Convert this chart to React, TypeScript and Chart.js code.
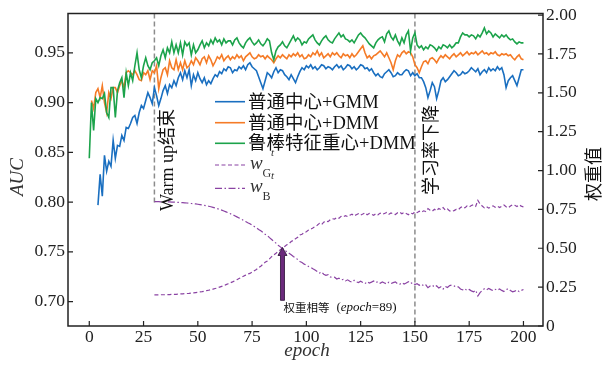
import React, { useEffect, useRef } from "react";
import { Chart, registerables } from "chart.js";
Chart.register(...registerables);

// ---------------- data ----------------
const xTicks = [0, 25, 50, 75, 100, 125, 150, 175, 200];
const aucTicks = [0.7, 0.75, 0.8, 0.85, 0.9, 0.95];
const weightTicks = [0, 0.25, 0.5, 0.75, 1.0, 1.25, 1.5, 1.75, 2.0];

const seriesNames = ["普通中心+GMM", "普通中心+DMM", "鲁棒特征重心+DMM"];

const greenStart = 0;
const aucGreen = [
  0.844, 0.900, 0.872, 0.904, 0.900, 0.905, 0.904, 0.909, 0.890, 0.885,
  0.915, 0.915, 0.885, 0.912, 0.920, 0.925, 0.905, 0.930, 0.917, 0.930,
  0.922, 0.937, 0.950, 0.933, 0.925, 0.937, 0.945, 0.937, 0.933, 0.940,
  0.942, 0.945, 0.937, 0.947, 0.953, 0.945, 0.955, 0.950, 0.961, 0.950,
  0.958, 0.950, 0.960, 0.948, 0.961, 0.957, 0.960, 0.948, 0.958, 0.950,
  0.953, 0.958, 0.962, 0.955, 0.960, 0.957, 0.963, 0.959, 0.965, 0.961,
  0.963, 0.958, 0.964, 0.960, 0.962, 0.962, 0.958, 0.963, 0.965, 0.960,
  0.957, 0.955, 0.960, 0.963, 0.965, 0.961, 0.958, 0.960, 0.963, 0.959,
  0.957, 0.960, 0.964, 0.962, 0.950, 0.943, 0.952, 0.956, 0.958, 0.961,
  0.957, 0.955, 0.959, 0.963, 0.967, 0.962, 0.965, 0.963, 0.958, 0.961,
  0.960, 0.964, 0.966, 0.968, 0.963, 0.960, 0.958, 0.962, 0.965, 0.967,
  0.963, 0.961, 0.960, 0.964, 0.967, 0.970, 0.966, 0.968, 0.964, 0.963,
  0.961, 0.963, 0.960, 0.964, 0.968, 0.970, 0.967, 0.965, 0.962, 0.959,
  0.957, 0.955, 0.960, 0.963, 0.965, 0.966, 0.961, 0.969, 0.972, 0.966,
  0.963, 0.968, 0.962, 0.958, 0.965, 0.960, 0.968, 0.972, 0.952, 0.965,
  0.970, 0.958, 0.955, 0.957, 0.953, 0.956, 0.954, 0.958, 0.957, 0.955,
  0.952, 0.956, 0.954, 0.958, 0.957, 0.955, 0.958, 0.955, 0.957, 0.960,
  0.960, 0.966, 0.970, 0.968, 0.968, 0.966, 0.968, 0.967, 0.964, 0.968,
  0.966, 0.970, 0.975, 0.969, 0.972, 0.970, 0.966, 0.969, 0.967, 0.965,
  0.968, 0.966, 0.968, 0.965, 0.963, 0.964, 0.961, 0.959, 0.961, 0.960,
  0.960,
];

const orangeStart = 1;
const aucOrange = [
  0.902, 0.894, 0.910, 0.914, 0.905, 0.917, 0.900, 0.890, 0.910,
  0.904, 0.915, 0.915, 0.910, 0.917, 0.922, 0.915, 0.930, 0.932, 0.930,
  0.928, 0.932, 0.928, 0.923, 0.922, 0.930, 0.928, 0.932, 0.923, 0.932,
  0.930, 0.937, 0.914, 0.925, 0.933, 0.935, 0.928, 0.942, 0.935, 0.933,
  0.943, 0.933, 0.940, 0.933, 0.942, 0.935, 0.937, 0.942, 0.938, 0.945,
  0.942, 0.938, 0.944, 0.946, 0.940, 0.947, 0.943, 0.937, 0.941, 0.946,
  0.944, 0.948, 0.942, 0.945, 0.947, 0.943, 0.946, 0.944, 0.948, 0.945,
  0.947, 0.942, 0.946, 0.948, 0.950, 0.946, 0.944, 0.945, 0.948, 0.946,
  0.947, 0.944, 0.947, 0.945, 0.943, 0.940, 0.944, 0.947, 0.945, 0.948,
  0.946, 0.944, 0.948, 0.946, 0.949, 0.947, 0.950, 0.946, 0.948, 0.944,
  0.945, 0.948, 0.946, 0.950, 0.948, 0.952, 0.947, 0.950, 0.945, 0.947,
  0.949, 0.946, 0.950, 0.948, 0.950, 0.947, 0.945, 0.949, 0.947, 0.948,
  0.945, 0.949, 0.946, 0.948, 0.951, 0.954, 0.957, 0.950, 0.945, 0.947,
  0.944, 0.947, 0.948, 0.950, 0.952, 0.949, 0.946, 0.950, 0.945, 0.940,
  0.933, 0.942, 0.948, 0.946, 0.950, 0.952, 0.949, 0.951, 0.950, 0.946,
  0.938, 0.935, 0.930, 0.936, 0.941, 0.942, 0.939, 0.944, 0.945, 0.943,
  0.940, 0.944, 0.947, 0.945, 0.948, 0.946, 0.944, 0.947, 0.949, 0.946,
  0.948, 0.950, 0.947, 0.949, 0.951, 0.948, 0.950, 0.949, 0.951, 0.948,
  0.950, 0.952, 0.949, 0.950, 0.948, 0.950, 0.949, 0.951, 0.948, 0.947,
  0.949, 0.948, 0.949, 0.947, 0.948, 0.945, 0.943, 0.946, 0.948, 0.944,
  0.943,
];

const blueStart = 4;
const aucBlue = [
  0.797, 0.828, 0.806, 0.847, 0.831, 0.841,
  0.836, 0.862, 0.844, 0.857, 0.856, 0.867, 0.862, 0.875, 0.874, 0.879,
  0.885, 0.887, 0.879, 0.890, 0.897, 0.894, 0.902, 0.910, 0.905, 0.899,
  0.915, 0.907, 0.897, 0.904, 0.912, 0.917, 0.909, 0.918, 0.915, 0.922,
  0.917, 0.925, 0.930, 0.923, 0.932, 0.925, 0.933, 0.917, 0.928, 0.922,
  0.930, 0.924, 0.920, 0.925, 0.918, 0.922, 0.919, 0.924, 0.928, 0.926,
  0.931, 0.929, 0.934, 0.932, 0.936, 0.935, 0.930, 0.933, 0.932, 0.936,
  0.934, 0.937, 0.933, 0.938, 0.940, 0.936, 0.934, 0.932, 0.926, 0.920,
  0.914, 0.922, 0.930, 0.928, 0.925, 0.931, 0.935, 0.930, 0.933, 0.932,
  0.928, 0.926, 0.923, 0.928, 0.924, 0.920, 0.926, 0.931, 0.935, 0.933,
  0.937, 0.935, 0.938, 0.934, 0.936, 0.933, 0.935, 0.938, 0.937, 0.934,
  0.936, 0.935, 0.933, 0.936, 0.938, 0.935, 0.937, 0.933, 0.935, 0.938,
  0.937, 0.934, 0.936, 0.933, 0.935, 0.938, 0.937, 0.934, 0.935, 0.932,
  0.934, 0.930, 0.927, 0.929, 0.926, 0.925, 0.929, 0.931, 0.933, 0.930,
  0.926, 0.927, 0.930, 0.928, 0.928, 0.931, 0.933, 0.932, 0.927, 0.930,
  0.927, 0.929, 0.925, 0.925, 0.921, 0.915, 0.905, 0.912, 0.920, 0.916,
  0.904, 0.912, 0.922, 0.925, 0.921, 0.923, 0.926, 0.929, 0.932, 0.930,
  0.927, 0.928, 0.931, 0.929, 0.930, 0.932, 0.935, 0.933, 0.931, 0.934,
  0.928, 0.931, 0.933, 0.930, 0.935, 0.932, 0.934, 0.932, 0.936, 0.933,
  0.935, 0.928, 0.915, 0.922, 0.925, 0.927, 0.922, 0.917, 0.925, 0.933,
  0.933,
];

const weightStart = 30;
const weightG = [
  0.200, 0.200, 0.200, 0.201, 0.201, 0.201, 0.202, 0.202, 0.203, 0.203,
  0.204, 0.205, 0.206, 0.207, 0.208, 0.209, 0.210, 0.212, 0.213, 0.215,
  0.217, 0.219, 0.221, 0.224, 0.227, 0.230, 0.233, 0.237, 0.241, 0.245,
  0.250, 0.255, 0.260, 0.266, 0.272, 0.278, 0.284, 0.291, 0.298, 0.305,
  0.312, 0.320, 0.327, 0.334, 0.338, 0.347, 0.356, 0.364, 0.376, 0.385,
  0.397, 0.410, 0.418, 0.432, 0.446, 0.457, 0.468, 0.480, 0.491, 0.502,
  0.512, 0.522, 0.530, 0.543, 0.551, 0.562, 0.570, 0.585, 0.590, 0.602,
  0.606, 0.617, 0.622, 0.630, 0.641, 0.648, 0.660, 0.652, 0.668, 0.675,
  0.671, 0.684, 0.690, 0.688, 0.698, 0.693, 0.705, 0.701, 0.710, 0.704,
  0.712, 0.719, 0.708, 0.716, 0.722, 0.713, 0.720, 0.728, 0.716, 0.724,
  0.719, 0.712, 0.722, 0.715, 0.726, 0.718, 0.724, 0.730, 0.719, 0.727,
  0.721, 0.717, 0.728, 0.733, 0.722, 0.730, 0.724, 0.716, 0.727, 0.721,
  0.735, 0.729, 0.738, 0.732, 0.741, 0.736, 0.755, 0.744, 0.738, 0.751,
  0.742, 0.756, 0.748, 0.762, 0.745, 0.752, 0.740, 0.737, 0.742, 0.750,
  0.748, 0.762, 0.768, 0.760, 0.772, 0.766, 0.775, 0.780, 0.770, 0.808,
  0.785, 0.772, 0.760, 0.768, 0.758, 0.766, 0.773, 0.764, 0.770, 0.762,
  0.771, 0.778, 0.767, 0.760, 0.772, 0.780, 0.776, 0.768, 0.779, 0.771,
  0.765,
];
const weightB = [
  0.800, 0.800, 0.800, 0.799, 0.799, 0.799, 0.798, 0.798, 0.797, 0.797,
  0.796, 0.795, 0.794, 0.793, 0.792, 0.791, 0.790, 0.788, 0.787, 0.785,
  0.783, 0.781, 0.779, 0.776, 0.773, 0.770, 0.767, 0.763, 0.759, 0.755,
  0.750, 0.745, 0.740, 0.734, 0.728, 0.722, 0.716, 0.709, 0.702, 0.695,
  0.688, 0.680, 0.672, 0.664, 0.658, 0.648, 0.640, 0.632, 0.621, 0.613,
  0.602, 0.590, 0.583, 0.568, 0.556, 0.544, 0.533, 0.519, 0.509, 0.498,
  0.487, 0.478, 0.468, 0.458, 0.447, 0.438, 0.428, 0.415, 0.408, 0.398,
  0.392, 0.383, 0.377, 0.368, 0.360, 0.351, 0.340, 0.348, 0.333, 0.326,
  0.330, 0.316, 0.312, 0.314, 0.302, 0.308, 0.296, 0.300, 0.290, 0.297,
  0.288, 0.282, 0.294, 0.284, 0.279, 0.288, 0.280, 0.272, 0.285, 0.276,
  0.282, 0.289, 0.279, 0.286, 0.275, 0.283, 0.277, 0.270, 0.282, 0.273,
  0.279, 0.284, 0.272, 0.268, 0.278, 0.270, 0.277, 0.285, 0.273, 0.280,
  0.266, 0.272, 0.262, 0.269, 0.259, 0.265, 0.246, 0.257, 0.263, 0.250,
  0.259, 0.244, 0.253, 0.238, 0.255, 0.248, 0.260, 0.263, 0.258, 0.250,
  0.252, 0.238, 0.232, 0.240, 0.228, 0.235, 0.226, 0.220, 0.230, 0.193,
  0.215, 0.228, 0.240, 0.232, 0.242, 0.234, 0.227, 0.236, 0.230, 0.238,
  0.229, 0.222, 0.233, 0.240, 0.228, 0.220, 0.224, 0.232, 0.221, 0.229,
  0.235,
];

const warmupEpoch = 30;
const lrDropEpoch = 150;
const equalEpoch = 89;

// ---------------- styles ----------------
const BLUE = "#1a6fc0";
const ORANGE = "#f57b27";
const GREEN = "#1ca34b";
const PURPLE = "#8a43a3";
const SERIF = "'Liberation Serif', 'Times New Roman', 'Noto Sans CJK SC', serif";
const CJK = "'Noto Sans CJK SC', sans-serif";

function toPoints(start: number, vals: number[]) {
  return vals.map((v, i) => ({ x: start + i, y: v }));
}

const overlayPlugin = {
  id: "overlay",
  beforeDatasetsDraw(chart: any) {
    const { ctx, chartArea, scales } = chart;
    const x = scales.x, y = scales.y;
    ctx.save();
    ctx.strokeStyle = "#8c8c8c";
    ctx.lineWidth = 1.5;
    ctx.setLineDash([5, 3]);
    const xw = x.getPixelForValue(warmupEpoch);
    ctx.beginPath();
    ctx.moveTo(xw, chartArea.top);
    ctx.lineTo(xw, y.getPixelForValue(0.797));
    ctx.stroke();
    const xl = x.getPixelForValue(lrDropEpoch);
    ctx.beginPath();
    ctx.moveTo(xl, chartArea.top);
    ctx.lineTo(xl, chartArea.bottom);
    ctx.stroke();
    ctx.restore();
  },
  afterDatasetsDraw(chart: any) {
    const { ctx, chartArea, scales } = chart;
    const x = scales.x, y = scales.y, y2 = scales.y2;
    const { left, right, top, bottom } = chartArea;
    ctx.save();
    // frame
    ctx.setLineDash([]);
    ctx.strokeStyle = "#222";
    ctx.lineWidth = 1.5;
    ctx.strokeRect(left, top, right - left, bottom - top);
    // inward ticks
    ctx.lineWidth = 1.2;
    ctx.beginPath();
    xTicks.forEach((v) => {
      const px = x.getPixelForValue(v);
      ctx.moveTo(px, bottom);
      ctx.lineTo(px, bottom - 5);
    });
    aucTicks.forEach((v) => {
      const py = y.getPixelForValue(v);
      ctx.moveTo(left, py);
      ctx.lineTo(left + 5, py);
    });
    weightTicks.forEach((v) => {
      const py = y2.getPixelForValue(v);
      ctx.moveTo(right, py);
      ctx.lineTo(right - 5, py);
    });
    ctx.stroke();

    // axis titles
    ctx.fillStyle = "#333";
    ctx.font = "italic 19px " + SERIF;
    ctx.textAlign = "center";
    ctx.textBaseline = "middle";
    ctx.fillText("epoch", 307, 351);
    ctx.save();
    ctx.translate(17.5, 177);
    ctx.rotate(-Math.PI / 2);
    ctx.fillText("AUC", 0, 0);
    ctx.restore();
    ctx.fillStyle = "#111";
    ctx.save();
    ctx.translate(595, 174);
    ctx.rotate(-Math.PI / 2);
    ctx.font = "18px " + SERIF;
    ctx.fillText("权重值", 0, 0);
    ctx.restore();

    // vertical annotations
    ctx.fillStyle = "#111";
    ctx.font = "18px " + SERIF;
    ctx.textAlign = "left";
    ctx.save();
    ctx.translate(x.getPixelForValue(warmupEpoch) + 14, 211);
    ctx.rotate(-Math.PI / 2);
    ctx.fillText("Warm up结束", 0, 0);
    ctx.restore();
    ctx.save();
    ctx.translate(x.getPixelForValue(lrDropEpoch) + 17, 195);
    ctx.rotate(-Math.PI / 2);
    ctx.fillText("学习率下降", 0, 0);
    ctx.restore();

    // legend
    const lx0 = 215, lx1 = 245, tx = 248;
    const rows = [101.7, 122.7, 143.3, 165, 188.3];
    const colors = [BLUE, ORANGE, GREEN];
    ctx.textBaseline = "middle";
    ctx.textAlign = "left";
    for (let i = 0; i < 3; i++) {
      ctx.strokeStyle = colors[i];
      ctx.lineWidth = 1.6;
      ctx.setLineDash([]);
      ctx.beginPath();
      ctx.moveTo(lx0, rows[i]);
      ctx.lineTo(lx1, rows[i]);
      ctx.stroke();
      ctx.fillStyle = "#111";
      ctx.font = "18.5px " + SERIF;
      ctx.fillText(seriesNames[i], tx, rows[i] + 1);
    }
    const wDash = [[4, 2.5], [7, 2.5, 1.5, 2.5]];
    const subs = ["G", "B"];
    for (let i = 0; i < 2; i++) {
      const ry = rows[3 + i];
      ctx.strokeStyle = PURPLE;
      ctx.lineWidth = 1.2;
      ctx.setLineDash(wDash[i]);
      ctx.beginPath();
      ctx.moveTo(lx0, ry);
      ctx.lineTo(lx1, ry);
      ctx.stroke();
      ctx.setLineDash([]);
      ctx.fillStyle = "#333";
      ctx.textBaseline = "alphabetic";
      ctx.font = "italic 19px " + SERIF;
      ctx.fillText("w", 250, ry + 3.5);
      ctx.font = "12px " + SERIF;
      ctx.fillText(subs[i], 262.5, ry + 12);
      ctx.font = "italic 11px " + SERIF;
      ctx.fillText("t", 271, ry - 9.5);
      ctx.textBaseline = "middle";
    }

    // arrow
    const ax = x.getPixelForValue(equalEpoch);
    const tipY = y2.getPixelForValue(0.505);
    const baseY = y2.getPixelForValue(0.165);
    ctx.fillStyle = "#6b2a7c";
    ctx.strokeStyle = "#2a0f33";
    ctx.lineWidth = 0.8;
    ctx.beginPath();
    ctx.moveTo(ax - 2, baseY);
    ctx.lineTo(ax - 2, tipY + 8);
    ctx.lineTo(ax - 4.5, tipY + 8);
    ctx.lineTo(ax, tipY);
    ctx.lineTo(ax + 4.5, tipY + 8);
    ctx.lineTo(ax + 2, tipY + 8);
    ctx.lineTo(ax + 2, baseY);
    ctx.closePath();
    ctx.fill();
    ctx.stroke();

    // arrow label
    ctx.fillStyle = "#111";
    ctx.textBaseline = "middle";
    ctx.textAlign = "left";
    ctx.font = "11.5px " + CJK;
    let cx = ax + 1;
    const ly = 307.5;
    ctx.fillText("权重相等", cx, ly);
    cx = 336.5;
    ctx.font = "13px " + SERIF;
    ctx.fillText("(", cx, ly);
    cx += ctx.measureText("(").width;
    ctx.font = "italic 13px " + SERIF;
    ctx.fillText("epoch", cx, ly);
    cx += ctx.measureText("epoch").width;
    ctx.font = "13px " + SERIF;
    ctx.fillText("=89)", cx, ly);
    ctx.restore();
  },
};

export default function App() {
  const ref = useRef<HTMLCanvasElement | null>(null);
  useEffect(() => {
    if (!ref.current) return;
    const tickFont = { family: SERIF, size: 17.5 };
    const chart = new Chart(ref.current, {
      type: "line",
      data: {
        datasets: [
          {
            label: seriesNames[2],
            data: toPoints(greenStart, aucGreen),
            borderColor: GREEN,
            borderWidth: 1.6,
            pointRadius: 0,
            yAxisID: "y",
            order: 1,
          },
          {
            label: seriesNames[1],
            data: toPoints(orangeStart, aucOrange),
            borderColor: ORANGE,
            borderWidth: 1.6,
            pointRadius: 0,
            yAxisID: "y",
            order: 2,
          },
          {
            label: seriesNames[0],
            data: toPoints(blueStart, aucBlue),
            borderColor: BLUE,
            borderWidth: 1.6,
            pointRadius: 0,
            yAxisID: "y",
            order: 3,
          },
          {
            label: "wG",
            data: toPoints(weightStart, weightG),
            borderColor: PURPLE,
            borderWidth: 1.2,
            borderDash: [4, 2.5],
            pointRadius: 0,
            yAxisID: "y2",
            order: 4,
          },
          {
            label: "wB",
            data: toPoints(weightStart, weightB),
            borderColor: PURPLE,
            borderWidth: 1.2,
            borderDash: [7, 2.5, 1.5, 2.5],
            pointRadius: 0,
            yAxisID: "y2",
            order: 5,
          },
        ] as any,
      },
      options: {
        animation: false,
        responsive: false,
        devicePixelRatio: 1,
        layout: { padding: { top: 10, left: 0, right: 0, bottom: 0 } },
        plugins: { legend: { display: false }, tooltip: { enabled: false } },
        scales: {
          x: {
            type: "linear",
            min: -9.8,
            max: 209,
            bounds: "data",
            grid: { display: false, drawTicks: false },
            border: { display: false },
            ticks: {
              font: tickFont,
              color: "#222",
              padding: 1,
              maxRotation: 0,
              autoSkip: false,
              callback: (v: any) => String(v),
            },
            afterBuildTicks: (s: any) => {
              s.ticks = xTicks.map((v) => ({ value: v }));
            },
            afterFit: (s: any) => {
              s.height = 43;
            },
          },
          y: {
            type: "linear",
            position: "left",
            min: 0.6755,
            max: 0.9895,
            bounds: "data",
            grid: { display: false, drawTicks: false },
            border: { display: false },
            ticks: {
              font: tickFont,
              color: "#222",
              padding: 3,
              autoSkip: false,
              callback: (v: any) => Number(v).toFixed(2),
            },
            afterBuildTicks: (s: any) => {
              s.ticks = aucTicks.map((v) => ({ value: v }));
            },
            afterFit: (s: any) => {
              s.width = 68;
            },
          },
          y2: {
            type: "linear",
            position: "right",
            min: 0,
            max: 2.01,
            bounds: "data",
            grid: { display: false, drawTicks: false },
            border: { display: false },
            ticks: {
              font: tickFont,
              color: "#222",
              padding: 3,
              autoSkip: false,
              callback: (v: any) => (Number(v) === 0 ? "0" : Number(v).toFixed(2)),
            },
            afterBuildTicks: (s: any) => {
              s.ticks = weightTicks.map((v) => ({ value: v }));
            },
            afterFit: (s: any) => {
              s.width = 61;
            },
          },
        },
      } as any,
      plugins: [overlayPlugin],
    });
    return () => chart.destroy();
  }, []);
  return (
    <div style={{ position: "absolute", left: 0, top: 0, width: 604, height: 369, background: "#fff" }}>
      <canvas ref={ref} width={604} height={369} style={{ display: "block" }} />
    </div>
  );
}
